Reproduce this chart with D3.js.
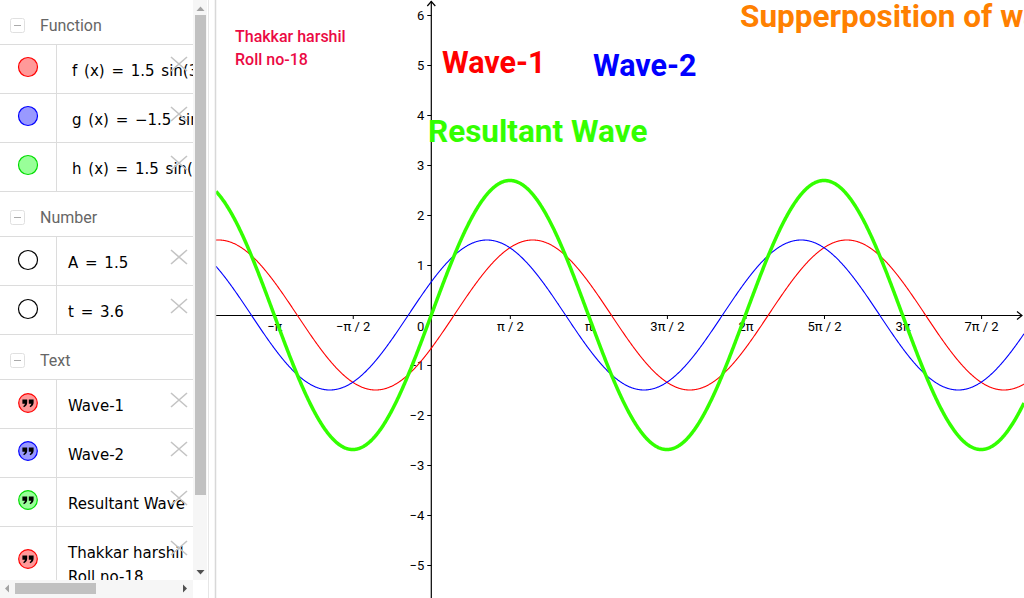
<!DOCTYPE html>
<html><head><meta charset="utf-8">
<script src="https://cdn.jsdelivr.net/npm/d3@7"></script>
<style>
html,body{margin:0;padding:0;background:#fff;overflow:hidden;}
svg{display:block;}
</style></head>
<body>
<svg id="c" width="1024" height="598"></svg>
<script>
// ---- data (as shown in the algebra view) ----
const numberNames = ["A", "t"];
const numberValues = [1.5, 3.6];
const functionNames = ["f", "g", "h"];
const functionLabels = ["f (x) = 1.5 sin(3.6 − x)", "g (x) = −1.5 sin(3.6 + x)", "h (x) = 1.5 sin(3.6 − x) − 1.5 sin(3.6 + x)"];
const textItems = ["Wave-1", "Wave-2", "Resultant Wave", "Thakkar harshil\nRoll no-18"];
const xTickUnits = [-2, -1, 1, 2, 3, 4, 5, 6, 7]; // multiples of π/2
const xTickLabels = ["−π", "−π / 2", "π / 2", "π", "3π / 2", "2π", "5π / 2", "3π", "7π / 2"];
const yTickValues = [6, 5, 4, 3, 2, 1, -1, -2, -3, -4, -5];
const yTickLabels = ["6", "5", "4", "3", "2", "1", "−1", "−2", "−3", "−4", "−5"];

const A = numberValues[0], t = numberValues[1];
const fns = {
  f: x => A * Math.sin(t - x),
  g: x => -A * Math.sin(t + x),
  h: x => A * Math.sin(t - x) - A * Math.sin(t + x)
};

const svg = d3.select("#c");
const X0 = 431.3, Y0 = 315, U = 50;
const x = d3.scaleLinear().domain([(216 - X0) / U, (1024 - X0) / U]).range([216, 1024]);
const y = d3.scaleLinear().domain([(Y0 - 598) / U, Y0 / U]).range([598, 0]);

// ---- graphics view ----
const gv = svg.append("g");
svg.append("clipPath").attr("id", "gclip").append("rect").attr("x", 216).attr("y", 0).attr("width", 808).attr("height", 598);
gv.attr("clip-path", "url(#gclip)");

// axes
const ax = gv.append("g").attr("transform", `translate(0,${Y0})`)
  .call(d3.axisBottom(x).tickValues(xTickUnits.map(k => k * Math.PI / 2))
    .tickFormat((d, i) => xTickLabels[i]).tickSizeInner(4).tickSizeOuter(0).tickPadding(3));
ax.select(".domain").remove();
ax.selectAll("text").attr("font-family", "Roboto, sans-serif").attr("font-size", 13).attr("fill", "#000");
ax.selectAll("line").attr("stroke", "#000");

const ay = gv.append("g").attr("transform", `translate(${X0},0)`)
  .call(d3.axisLeft(y).tickValues(yTickValues).tickFormat((d, i) => yTickLabels[i]).tickSizeInner(4).tickSizeOuter(0).tickPadding(3));
ay.select(".domain").remove();
ay.selectAll("text").attr("font-family", "Roboto, sans-serif").attr("font-size", 13).attr("fill", "#000");
ay.selectAll("line").attr("stroke", "#000");

gv.append("text").attr("x", X0 - 7).attr("y", 331).attr("text-anchor", "end")
  .attr("font-family", "Roboto, sans-serif").attr("font-size", 13).text("0");

gv.append("line").attr("x1", 216).attr("x2", 1022).attr("y1", Y0 + 0.5).attr("y2", Y0 + 0.5).attr("stroke", "#000").attr("stroke-width", 1.2);
gv.append("line").attr("x1", X0).attr("x2", X0).attr("y1", 1).attr("y2", 598).attr("stroke", "#000").attr("stroke-width", 1.2);
gv.append("path").attr("d", `M${X0 - 4},${6} L${X0},${1.5} L${X0 + 4},${6}`).attr("fill", "none").attr("stroke", "#000").attr("stroke-width", 1.2);
gv.append("path").attr("d", `M1017,${Y0 - 3.5} L1022,${Y0 + 0.5} L1017,${Y0 + 4.5}`).attr("fill", "none").attr("stroke", "#000").attr("stroke-width", 1.2);

// curves
const xs = d3.range(0, 1601).map(i => x.domain()[0] + (x.domain()[1] - x.domain()[0]) * i / 1600);
const line = fn => d3.line().x(d => x(d)).y(d => y(fn(d)))(xs);
const curveStyle = { f: ["#ff0000", 1.1], g: ["#0000ff", 1.1], h: ["#33ff00", 3.5] };
["f", "g", "h"].forEach(n => {
  gv.append("path").attr("d", line(fns[n])).attr("fill", "none")
    .attr("stroke", curveStyle[n][0]).attr("stroke-width", curveStyle[n][1]).attr("stroke-linejoin", "round");
});

// texts
const T = (tx, ty, s, size, col, w) => gv.append("text").attr("x", tx).attr("y", ty)
  .attr("font-family", "Roboto, sans-serif").attr("font-size", size).attr("font-weight", w || "bold").attr("fill", col).text(s);
T(442, 73, textItems[0], 30.5, "#ff0000");
T(593, 76, textItems[1], 30.5, "#0000ff");
T(428, 142, textItems[2], 31.5, "#33ff00");
T(740, 27, "Supperposition of waves", 31.5, "#ff8000");
const tl = textItems[3].split("\n");
T(235, 42, tl[0], 16, "#eb0a44", 500);
T(235, 65, tl[1], 16, "#eb0a44", 500);

// ---- algebra view ----
const av = svg.append("g");
svg.append("clipPath").attr("id", "aclip").append("rect").attr("x", 0).attr("y", 0).attr("width", 193).attr("height", 580);
const avc = av.append("g").attr("clip-path", "url(#aclip)");

const sepColor = "#dcdcdc";
function header(yb, label) {
  avc.append("rect").attr("x", 10.5).attr("y", yb - 12.5).attr("width", 14).attr("height", 14).attr("rx", 2)
    .attr("fill", "#fff").attr("stroke", "#e0e0e0");
  avc.append("line").attr("x1", 14).attr("x2", 21).attr("y1", yb - 5.5).attr("y2", yb - 5.5).attr("stroke", "#aaa");
  avc.append("text").attr("x", 40).attr("y", yb).attr("font-family", "Roboto, sans-serif").attr("font-size", 16).attr("fill", "#666").text(label);
}
function hsep(yy) { avc.append("line").attr("x1", 0).attr("x2", 193).attr("y1", yy + 0.5).attr("y2", yy + 0.5).attr("stroke", sepColor); }
function vsep(y1, y2) { avc.append("line").attr("x1", 56.5).attr("x2", 56.5).attr("y1", y1).attr("y2", y2).attr("stroke", sepColor); }
function xicon(cy) {
  avc.append("path").attr("d", `M171,${cy - 7} L187,${cy + 7} M187,${cy - 7} L171,${cy + 7}`).attr("stroke", "#c4c4c4").attr("stroke-width", 1.6);
}
function item(xt, yb, s, ws) {
  avc.append("text").attr("x", xt).attr("y", yb).attr("font-family", "DejaVu Sans, sans-serif").attr("font-size", 15)
    .attr("word-spacing", ws || 0).attr("fill", "#000").text(s);
}

// Function group
header(31, "Function");
const fnFill = ["#ff9999", "#9999ff", "#99ff99"], fnStroke = ["#ff0000", "#0000ff", "#00dd00"];
[44, 93, 142, 191].forEach(hsep);
vsep(44, 191);
functionLabels.forEach((s, i) => {
  const top = 44 + 49 * i;
  avc.append("circle").attr("cx", 28).attr("cy", top + 23).attr("r", 9.5).attr("fill", fnFill[i]).attr("stroke", fnStroke[i]).attr("stroke-width", 1.2);
  item(72, top + 32, s, 2);
});

// Number group
header(223, "Number");
[236, 285, 334].forEach(hsep);
vsep(236, 334);
numberNames.forEach((n, i) => {
  const top = 236 + 49 * i;
  avc.append("circle").attr("cx", 28).attr("cy", top + 24).attr("r", 9.5).attr("fill", "#fff").attr("stroke", "#000").attr("stroke-width", 1.2);
  item(68, top + 32, `${n} = ${numberValues[i]}`, 2);
});

// Text group
header(366, "Text");
[379, 428, 477, 526].forEach(hsep);
vsep(379, 580);
const txFill = ["#ff9999", "#9999ff", "#99ff99", "#ff9999"], txStroke = ["#ff0000", "#0000ff", "#00dd00", "#ff0000"];
const txCy = [403, 451, 500, 559];
textItems.forEach((s, i) => {
  avc.append("circle").attr("cx", 28).attr("cy", txCy[i]).attr("r", 9.3).attr("fill", txFill[i]).attr("stroke", txStroke[i]).attr("stroke-width", 1.2);
  // quote glyph drawn as two heavy commas
  [-3.2, 3.2].forEach(dx => {
    const cx = 28 + dx, cy = txCy[i] - 1;
    avc.append("path")
      .attr("d", `M${cx - 2.4},${cy - 2.6} h4.8 v3.2 q0,3.2 -3.2,4.6 l-0.8,-1 q1.6,-1 1.8,-2.4 h-2.6 z`)
      .attr("fill", "#000");
  });
  const lines = s.split("\n");
  lines.forEach((l, k) => item(68, (i < 3 ? 411 + 49 * i : 558) + k * 24, l));
});

// X icons (drawn after text so they overlay)
[64, 114, 163].forEach(xicon);
[257, 306].forEach(xicon);
[400, 449, 498, 548].forEach(xicon);

// scrollbars
av.append("rect").attr("x", 193).attr("y", 0).attr("width", 14).attr("height", 580).attr("fill", "#f6f6f6");
av.append("rect").attr("x", 195).attr("y", 15).attr("width", 11).attr("height", 480).attr("fill", "#c1c1c1");
av.append("path").attr("d", "M196.5,11 L200.5,6.5 L204.5,11 Z").attr("fill", "#a3a3a3");
av.append("path").attr("d", "M196.5,570 L200.5,574.5 L204.5,570 Z").attr("fill", "#505050");
av.append("rect").attr("x", 0).attr("y", 580).attr("width", 193).attr("height", 18).attr("fill", "#f6f6f6");
av.append("rect").attr("x", 15).attr("y", 583).attr("width", 81).attr("height", 11).attr("fill", "#c1c1c1");
av.append("path").attr("d", "M9,584.5 L5,588.5 L9,592.5 Z").attr("fill", "#a3a3a3");
av.append("path").attr("d", "M183,584.5 L187,588.5 L183,592.5 Z").attr("fill", "#505050");
av.append("rect").attr("x", 193).attr("y", 580).attr("width", 14).attr("height", 18).attr("fill", "#fff");
av.append("line").attr("x1", 208.5).attr("x2", 208.5).attr("y1", 0).attr("y2", 598).attr("stroke", "#e6e6e6");
av.append("rect").attr("x", 209).attr("y", 0).attr("width", 6).attr("height", 598).attr("fill", "#fff");
av.append("line").attr("x1", 215.5).attr("x2", 215.5).attr("y1", 0).attr("y2", 598).attr("stroke", "#d8d8d8").attr("stroke-width", 1.5);
</script>
</body></html>
